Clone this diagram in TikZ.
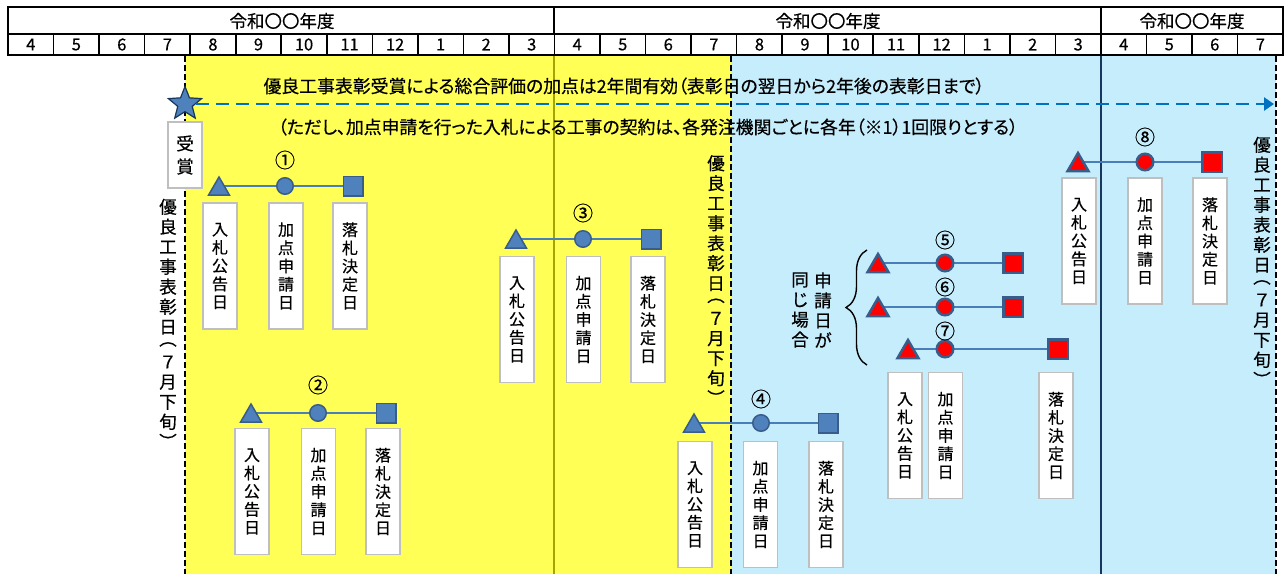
\documentclass[tikz,border=0pt]{standalone}
\usepackage{fontspec}
\setmainfont{Noto Sans CJK JP}[FakeBold=0.5]
\newfontfamily\jpp{Noto Sans CJK JP}[RawFeature=+palt, FakeBold=0.5]
\usetikzlibrary{shapes.geometric,arrows.meta,decorations.pathreplacing}
\definecolor{yel}{RGB}{255,255,85}
\definecolor{lblue}{RGB}{198,237,252}
\definecolor{shfill}{RGB}{79,129,189}
\definecolor{shedge}{RGB}{56,93,138}
\definecolor{connc}{RGB}{74,126,187}
\definecolor{olivel}{RGB}{165,165,0}
\definecolor{navyl}{RGB}{23,55,94}
\definecolor{arrowblue}{RGB}{0,112,192}
\definecolor{boxgray}{RGB}{191,191,191}
\pgfdeclarelayer{bg}\pgfdeclarelayer{lines}
\pgfsetlayers{bg,lines,main}
\tikzset{
  hdr/.style={line width=1.6pt, draw=black},
  yearlbl/.style={font=\fontsize{17.5}{17.5}\selectfont, inner sep=0pt},
  month/.style={font=\fontsize{16.5}{16.5}\selectfont, inner sep=0pt},
  vdash/.style={line width=1.6pt, draw=black, dash pattern=on 6pt off 3pt},
  tri/.style={regular polygon, regular polygon sides=3, minimum size=24pt, inner sep=0pt, fill=shfill, draw=shedge, line width=1.5pt},
  redtri/.style={tri, fill=red, line width=2.5pt},
  circ/.style={circle, minimum size=16.5pt, inner sep=0pt, fill=shfill, draw=shedge, line width=1.5pt},
  redcirc/.style={circ, fill=red, line width=2.5pt},
  sq/.style={rectangle, minimum size=19.5pt, inner sep=0pt, fill=shfill, draw=shedge, line width=1.5pt},
  redsq/.style={sq, fill=red, line width=2.5pt},
  conn/.style={draw=connc, line width=1.3pt},
  num/.style={font=\fontsize{20}{20}\selectfont, inner sep=0pt},
  vbox/.style={rectangle, fill=white, draw=boxgray, line width=1.2pt, minimum width=34pt, minimum height=126pt, inner sep=0pt, font=\fontsize{16}{18.2}\selectfont, align=center},
  vlabel/.style={inner sep=0pt, font=\fontsize{17.5}{20}\selectfont, align=center},
  toptext/.style={inner sep=0pt, font=\jpp\fontsize{17.85}{17.85}\selectfont},
}
\newcommand\hyosho{優\\良\\工\\事\\表\\彰\\日\\[-8pt]︵\\[3pt]７\\月\\下\\旬\\︶}
\begin{document}
\begin{tikzpicture}[x=1pt,y=-1pt]
\useasboundingbox (0,0) rectangle (1286,574);
% backgrounds
\begin{pgfonlayer}{bg}
\fill[white] (0,0) rectangle (1286,574);
\fill[yel] (185,56) rectangle (731,574);
\fill[lblue] (731,56) rectangle (1276,574);
\draw[olivel, line width=1.8pt] (554,56) -- (554,574);
\draw[navyl, line width=1.8pt] (1101,56) -- (1101,574);
\draw[vdash] (185,56) -- (185,574);
\draw[vdash] (731,56) -- (731,574);
\draw[vdash] (1276,56) -- (1276,574);
\end{pgfonlayer}
% header
\draw[hdr] (8,7) rectangle (1283,55);
\draw[hdr] (8,34) -- (1283,34);
\draw[hdr] (554,7) -- (554,34);
\draw[hdr] (1101,7) -- (1101,34);
\foreach \k in {1,...,27} \draw[hdr] ({8+45.54*\k},34) -- ({8+45.54*\k},55);
\node[yearlbl] (y1) at (282,21) {令和〇〇年度};
\node[yearlbl] (y2) at (828,21) {令和〇〇年度};
\node[yearlbl] (y3) at (1192,21) {令和〇〇年度};
\foreach \m [count=\i from 0] in {4,5,6,7,8,9,10,11,12,1,2,3,4,5,6,7,8,9,10,11,12,1,2,3,4,5,6,7}
  \node[month] (m\i) at ({8+45.54*(\i+0.5)},44.5) {\m};
% top texts
\node[toptext] (txt1) at (624,86) {優良工事表彰受賞による総合評価の加点は2年間有効（表彰日の翌日から2年後の表彰日まで）};
\node[toptext] (txt2) at (648,127) {（ただし、加点申請を行った入札による工事の契約は、各発注機関ごとに各年（※1）1回限りとする）};
% star and arrow
\node[star, star points=5, star point ratio=2.3, fill=shfill, draw=navyl, line width=1.2pt, minimum size=35pt, inner sep=0pt] (star) at (185,104) {};
\coordinate (aend) at (1274,104);
\draw[arrowblue, line width=2.6pt, dash pattern=on 13pt off 7pt, -{Triangle[length=10pt,width=13pt]}] (star) -- (aend);
\node[vbox, minimum height=66pt, font=\fontsize{17.5}{23}\selectfont] (jusho) at (185,155) {受\\賞};
% vertical labels
\node[vlabel] (lblL) at (168,323.6) {\hyosho};
\node[vlabel] (lblM) at (716,280) {\hyosho};
\node[vlabel] (lblR) at (1262,261.6) {\hyosho};
% group 1
\node[tri] (t1) at (219,189) {};
\node[circ] (c1) at (285,186) {};
\node[sq] (s1) at (353,186) {};
\node[num] (n1) at (285,160) {①};
\node[vbox] (a1) at (220,266) {入\\札\\公\\告\\日};
\node[vbox] (b1) at (286,266) {加\\点\\申\\請\\日};
\node[vbox] (d1) at (350,266) {落\\札\\決\\定\\日};
% group 2
\node[tri] (t2) at (251,416) {};
\node[circ] (c2) at (318,413) {};
\node[sq] (s2) at (386,413) {};
\node[num] (n2) at (318,385) {②};
\node[vbox] (a2) at (252,491.5) {入\\札\\公\\告\\日};
\node[vbox] (b2) at (318.5,491.5) {加\\点\\申\\請\\日};
\node[vbox] (d2) at (383,491.5) {落\\札\\決\\定\\日};
% group 3
\node[tri] (t3) at (516,242) {};
\node[circ] (c3) at (583,239) {};
\node[sq] (s3) at (651,239) {};
\node[num] (n3) at (583,213) {③};
\node[vbox] (a3) at (517,319.5) {入\\札\\公\\告\\日};
\node[vbox] (b3) at (583.5,319.5) {加\\点\\申\\請\\日};
\node[vbox] (d3) at (648,319.5) {落\\札\\決\\定\\日};
% group 4
\node[tri] (t4) at (694,426) {};
\node[circ] (c4) at (761,423) {};
\node[sq] (s4) at (828,423) {};
\node[num] (n4) at (761,399) {④};
\node[vbox] (a4) at (695,504.5) {入\\札\\公\\告\\日};
\node[vbox] (b4) at (760.5,504.5) {加\\点\\申\\請\\日};
\node[vbox] (d4) at (826,504.5) {落\\札\\決\\定\\日};
% groups 5-7
\node[redtri] (t5) at (878,266) {};
\node[redcirc] (c5) at (945,263) {};
\node[redsq] (s5) at (1013,263) {};
\node[num] (n5) at (945,240) {⑤};
\node[redtri] (t6) at (878,310) {};
\node[redcirc] (c6) at (945,307) {};
\node[redsq] (s6) at (1013,307) {};
\node[num] (n6) at (945,287) {⑥};
\node[redtri] (t7) at (908,352) {};
\node[redcirc] (c7) at (945,349) {};
\node[redsq] (s7) at (1058,349) {};
\node[num] (n7) at (945,331) {⑦};
\node[vbox] (a7) at (905,435.5) {入\\札\\公\\告\\日};
\node[vbox] (b7) at (945.5,435.5) {加\\点\\申\\請\\日};
\node[vbox] (d7) at (1056,435.5) {落\\札\\決\\定\\日};
\coordinate (brb) at (867,365);
\coordinate (brt) at (867,250);
\draw[line width=1.4pt, decorate, decoration={brace, amplitude=21pt}] (brb) -- (brt);
\node[vlabel, font=\fontsize{17.5}{20}\selectfont] (same1) at (823,310) {申\\請\\日\\が};
\node[vlabel, font=\fontsize{17.5}{20}\selectfont] (same2) at (800,310) {同\\じ\\場\\合};
% group 8
\node[redtri] (t8) at (1078,165) {};
\node[redcirc] (c8) at (1145,162) {};
\node[redsq] (s8) at (1212,162) {};
\node[num] (n8) at (1145,137) {⑧};
\node[vbox] (a8) at (1079,241) {入\\札\\公\\告\\日};
\node[vbox] (b8) at (1145,241) {加\\点\\申\\請\\日};
\node[vbox] (d8) at (1210,241) {落\\札\\決\\定\\日};
% connector lines
\begin{pgfonlayer}{lines}
\foreach \g in {1,...,8}
  \draw[conn] (t\g.center |- c\g.center) -- (s\g.center);
\end{pgfonlayer}
\end{tikzpicture}
\end{document}
